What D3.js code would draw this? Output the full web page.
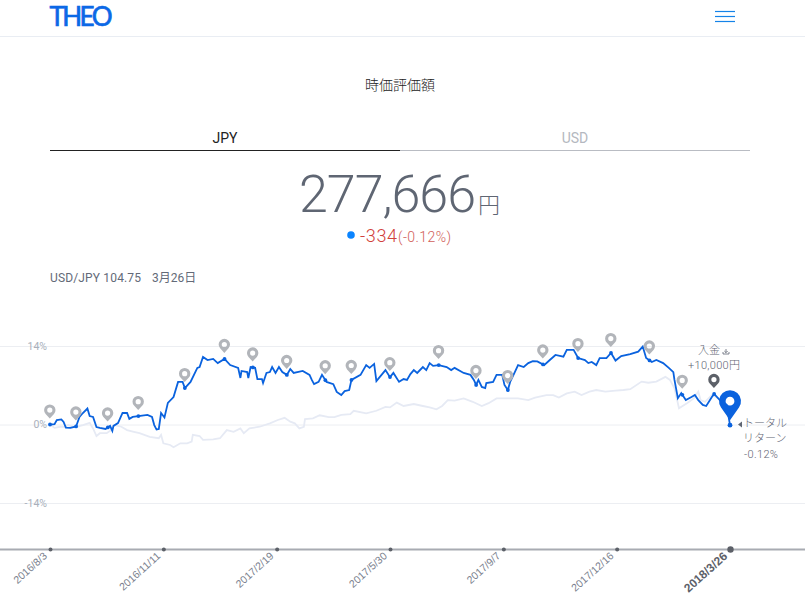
<!DOCTYPE html>
<html lang="ja">
<head>
<meta charset="utf-8">
<title>THEO</title>
<script src="https://cdnjs.cloudflare.com/ajax/libs/d3/7.8.5/d3.min.js"></script>
<style>
  html, body { margin: 0; background: #fff; overflow: hidden; }
  svg { display: block; font-family: Roboto, "Noto Sans CJK JP", sans-serif; font-weight: 300; }
</style>
</head>
<body>
<svg id="chart" width="805" height="605"></svg>
<script>
// days since 2016/8/3 and return in %
const portfolioDays = [0,4,6,10,12,14,18,23,26,29,33,35,38,41,44,49,53,55,56,60,64,68,70,73,78,86,90,92,94,96,98,101,104,109,113,117,119,124,130,132,135,139,144,148,154,159,166,168,169,174,175,177,181,183,187,188,191,194,
  196,199,202,205,209,212,215,223,229,231,233,237,240,244,250,253,257,260,264,266,274,279,282,286,288,296,300,303,308,312,315,318,321,324,329,332,335,338,343,350,354,357,365,371,374,376,378,381,384,385,391,394,399,401,404,406,409,413,418,422,426,430,
  436,441,446,453,456,462,466,472,475,478,482,485,491,495,499,504,512,519,523,526,531,535,541,546,550,551,554,557,561,566,569,572,576,579,584,586,591,597,600];
const portfolioPct = [0,0.05,0.8,0.9,0.45,-0.55,-0.6,-0.35,1.35,2.05,2.85,1.5,1.35,-0.45,-0.6,-0.8,-0.25,-1.15,-0.25,0.25,2.05,2.05,1.0,1.35,1.5,1.7,1.35,-0.1,-0.9,-0.8,2.05,1.25,3.85,4.9,7.6,7.6,6.5,7.6,10.1,10.25,12.05,11.5,11.7,10.95,11.7,10.6,10.1,8.3,9.55,9.35,8.3,10.25,10.1,8.1,8.1,7.4,9.2,9.35,
  10.25,9.2,10.25,9.35,8.85,9.9,9.2,9.55,8.85,7.95,7.2,7.6,8.85,7.6,7.2,5.8,5.25,5.95,6.15,7.95,8.85,10.6,10.1,10.8,7.75,9.7,8.45,9.2,7.6,8.1,7.95,9.0,9.7,9.2,10.25,9.7,10.95,10.45,10.6,10.25,9.7,10.1,9.2,8.85,7.95,7.05,7.95,6.7,6.5,7.4,7.6,8.85,8.85,7.05,6.15,7.6,8.85,10.6,10.25,10.95,11.3,11.25,
  10.6,11.5,12.4,12.1,13.3,13.3,11.85,11.5,10.95,11.15,10.6,11.85,11.85,12.75,11.4,12.2,12.55,13.0,13.9,11.85,11.15,11.5,10.95,10.1,9.35,7.95,4.7,5.6,4.35,4.9,5.25,4.35,3.5,3.3,4.9,5.45,4.35,3.5,-0.12];

const benchmarkDays = [0,4,9,13,16,22,29,35,38,41,44,50,54,57,63,68,74,79,88,96,98,100,106,109,115,121,125,126,132,135,144,150,156,162,168,171,176,185,194,
  201,207,212,216,220,224,225,232,238,246,251,257,265,268,279,288,296,300,306,312,321,329,335,341,346,351,357,365,373,381,387,394,403,413,422,428,
  438,444,449,456,463,469,476,482,490,499,506,512,522,528,535,543,547,551,555,562,568,570,572,574,578,584,590];
const benchmarkPct = [0,-0.6,-0.4,-0.4,-0.1,-0.5,-0.1,0.3,-0.7,-2.05,-1.55,-1.55,-1.0,-0.1,-0.4,-1.0,-1.3,-1.55,-2.2,-2.45,-1.85,-3.35,-3.65,-4.05,-3.35,-3.35,-3.05,-1.85,-2.05,-2.75,-2.65,-2.45,-1.0,-1.3,-0.7,-1.55,-0.7,-0.4,0.2,
  0.8,1.2,0.5,0.2,-0.7,-0.4,0.95,1.1,1.65,1.3,1.3,1.7,1.85,2.45,2.0,2.45,3.15,3.05,3.9,3.3,3.65,3.3,3.05,2.7,3.3,4.35,4.25,4.65,4.05,3.3,3.8,4.65,4.65,4.65,4.35,4.8,
  5.25,5.25,4.8,5.55,5.85,5.25,5.85,6.15,5.85,6.05,6.15,6.3,7.65,7.45,7.65,8.5,7.95,6.45,2.9,3.8,4.65,5.25,5.85,4.35,4.05,5.25,4.65];

// event pins, the deposit pin is drawn dark
const eventDays = [0,23,51,78,119,154,179,209,243,266,300,343,376,404,435,466,495,529,558];
const depositDay = 586;

const tickDays = [0,100,200,300,400,500,600];
const tickLabels = ["2016/8/3","2016/11/11","2017/2/19","2017/5/30","2017/9/7","2017/12/16","2018/3/26"];
const gridPct = [14,0,-14];

const startDate = new Date(2016, 7, 3);
const toDate = d => d3.timeDay.offset(startDate, d);

const svg = d3.select("#chart");
const x = d3.scaleTime().domain([toDate(0), toDate(600)]).range([50, 730]);
const y = d3.scaleLinear().domain([-14, 14]).range([503, 346]);

const pctAt = day => {
  const i = d3.bisectLeft(portfolioDays, day);
  if (portfolioDays[i] === day) return portfolioPct[i];
  const t = (day - portfolioDays[i - 1]) / (portfolioDays[i] - portfolioDays[i - 1]);
  return portfolioPct[i - 1] + t * (portfolioPct[i] - portfolioPct[i - 1]);
};

// header
svg.append("line").attr("x1", 0).attr("x2", 805).attr("y1", 36.5).attr("y2", 36.5).attr("stroke", "#e9edf3");
svg.append("text").attr("x", 49.5).attr("y", 26).attr("fill", "#0b68e6").attr("stroke", "#0b68e6").attr("stroke-width", 0.7)
  .style("font-family", "Lato").style("font-weight", 400).style("font-size", "26px")
  .attr("textLength", 63).attr("lengthAdjust", "spacing").text("THEO");
[11, 16, 21].forEach(v => svg.append("line").attr("x1", 715).attr("x2", 735).attr("y1", v + 0.5).attr("y2", v + 0.5).attr("stroke", "#1583e8").attr("stroke-width", 1.2));

const label = (px, py, str, size, fill, anchor) => svg.append("text")
  .attr("x", px).attr("y", py).attr("text-anchor", anchor || "middle")
  .attr("fill", fill).style("font-size", size + "px").text(str);

label(400, 90, "時価評価額", 14, "#222");
label(225, 143, "JPY", 14, "#222").style("font-weight", 400);
label(575, 143, "USD", 14, "#b4b8c0").style("font-weight", 400);
svg.append("line").attr("x1", 50).attr("x2", 400).attr("y1", 150.5).attr("y2", 150.5).attr("stroke", "#222");
svg.append("line").attr("x1", 400).attr("x2", 750).attr("y1", 150.5).attr("y2", 150.5).attr("stroke", "#b9bcc3");

label(299, 212, "277,666", 52, "#5f6673", "start").attr("textLength", 177);
label(478, 213, "円", 22, "#5f6673", "start");
svg.append("circle").attr("cx", 351).attr("cy", 235).attr("r", 3.8).attr("fill", "#0a84ff");
label(360, 242, "-334", 18, "#d1403a", "start").attr("textLength", 37);
label(398, 242, "(-0.12%)", 14, "#d1605a", "start").attr("textLength", 53);
label(50, 282, "USD/JPY 104.75", 12, "#636a78", "start").style("font-weight", 400).attr("textLength", 91);
label(152, 282, "3月26日", 12, "#636a78", "start").style("font-weight", 400);

// grid
svg.append("g").selectAll("line").data(gridPct).join("line")
  .attr("x1", 0).attr("x2", 805)
  .attr("y1", d => y(d) + 0.5).attr("y2", d => y(d) + 0.5)
  .attr("stroke", "#eceef2");
svg.append("g").selectAll("text").data(gridPct).join("text")
  .attr("x", 47).attr("y", d => y(d) + 3.5).attr("text-anchor", "end")
  .attr("fill", "#a9b0bb").style("font-size", "10.5px").style("font-weight", 400).text(d => d + "%");

// lines
const line = d3.line().x(d => x(toDate(d[0]))).y(d => y(d[1]));
svg.append("path").datum(d3.zip(benchmarkDays, benchmarkPct)).attr("d", line)
  .attr("fill", "none").attr("stroke", "#e6eaf4").attr("stroke-width", 1.8);
svg.append("path").datum(d3.zip(portfolioDays, portfolioPct)).attr("d", line)
  .attr("fill", "none").attr("stroke", "#0a62de").attr("stroke-width", 1.8);

// pins
function pinPath(h, r, hole) {
  const p = d3.path();
  const a = Math.acos(r / h);
  p.moveTo(0, 0);
  p.lineTo(r * Math.sin(a) * -1, -h + r * Math.cos(a));
  p.arc(0, -h, r, Math.PI / 2 + a, Math.PI / 2 - a);
  p.closePath();
  p.moveTo(hole, -h);
  p.arc(0, -h, hole, 0, Math.PI * 2);
  return p.toString();
}
const greyPin = pinPath(8.4, 5.7, 2.6);

const drawEvent = (day, colour) => {
  const px = x(toDate(day)), py = y(pctAt(day));
  svg.append("circle").attr("cx", px).attr("cy", py).attr("r", 1.9).attr("fill", "#0a62de");
  svg.append("path").attr("d", greyPin).attr("fill", colour).attr("fill-rule", "evenodd")
    .attr("transform", `translate(${px - 0.2},${py - 6})`);
};
eventDays.forEach(d => drawEvent(d, "#b2b5ba"));
drawEvent(depositDay, "#5c6068");

// current value
const endX = x(toDate(600)), endY = y(portfolioPct[portfolioPct.length - 1]);
svg.append("circle").attr("cx", endX).attr("cy", endY).attr("r", 2.4).attr("fill", "#0a62de");
svg.append("path").attr("d", pinPath(19, 11, 4.4)).attr("fill", "#0a62de").attr("fill-rule", "evenodd")
  .attr("transform", `translate(${endX},${endY - 5})`);

label(698, 354, "入金", 11, "#5f6673", "start");
label(714, 369, "+10,000円", 11, "#5f6673").attr("textLength", 52);
svg.append("path").attr("d", "M726,349v3.5M724.3,351l1.7,1.7l1.7,-1.7M723,352v2h6v-2").attr("fill", "none").attr("stroke", "#5f6673").attr("stroke-width", 0.8);
svg.append("path").attr("d", "M738,424.5l4,-3v6z").attr("fill", "#5f6673");
label(743, 427, "トータル", 11, "#5f6673", "start");
label(743, 442, "リターン", 11, "#5f6673", "start");
label(744, 458, "-0.12%", 11, "#5f6673", "start").attr("textLength", 34);

// time axis
const axis = d3.axisBottom(x).tickValues(tickDays.map(toDate)).tickSize(0)
  .tickFormat((d, i) => tickLabels[i]);
svg.append("line").attr("x1", 0).attr("x2", 805).attr("y1", 549.5).attr("y2", 549.5)
  .attr("stroke", "#a8abb2").attr("stroke-width", 2);
const ax = svg.append("g").attr("transform", "translate(0,549.5)").call(axis);
ax.select(".domain").remove();
ax.selectAll(".tick").append("circle").attr("r", (d, i) => i === 6 ? 3.2 : 2).attr("fill", "#5c6068");
ax.selectAll(".tick text")
  .attr("x", -7).attr("y", 0).attr("dy", "0.35em")
  .attr("text-anchor", "end").attr("transform", "rotate(-42)")
  .attr("fill", (d, i) => i === 6 ? "#5c6068" : "#7a818e")
  .style("font-family", "'Liberation Sans'")
  .style("font-weight", (d, i) => i === 6 ? 700 : 400)
  .style("font-size", (d, i) => i === 6 ? "12px" : "10.5px");
</script>
</body>
</html>
